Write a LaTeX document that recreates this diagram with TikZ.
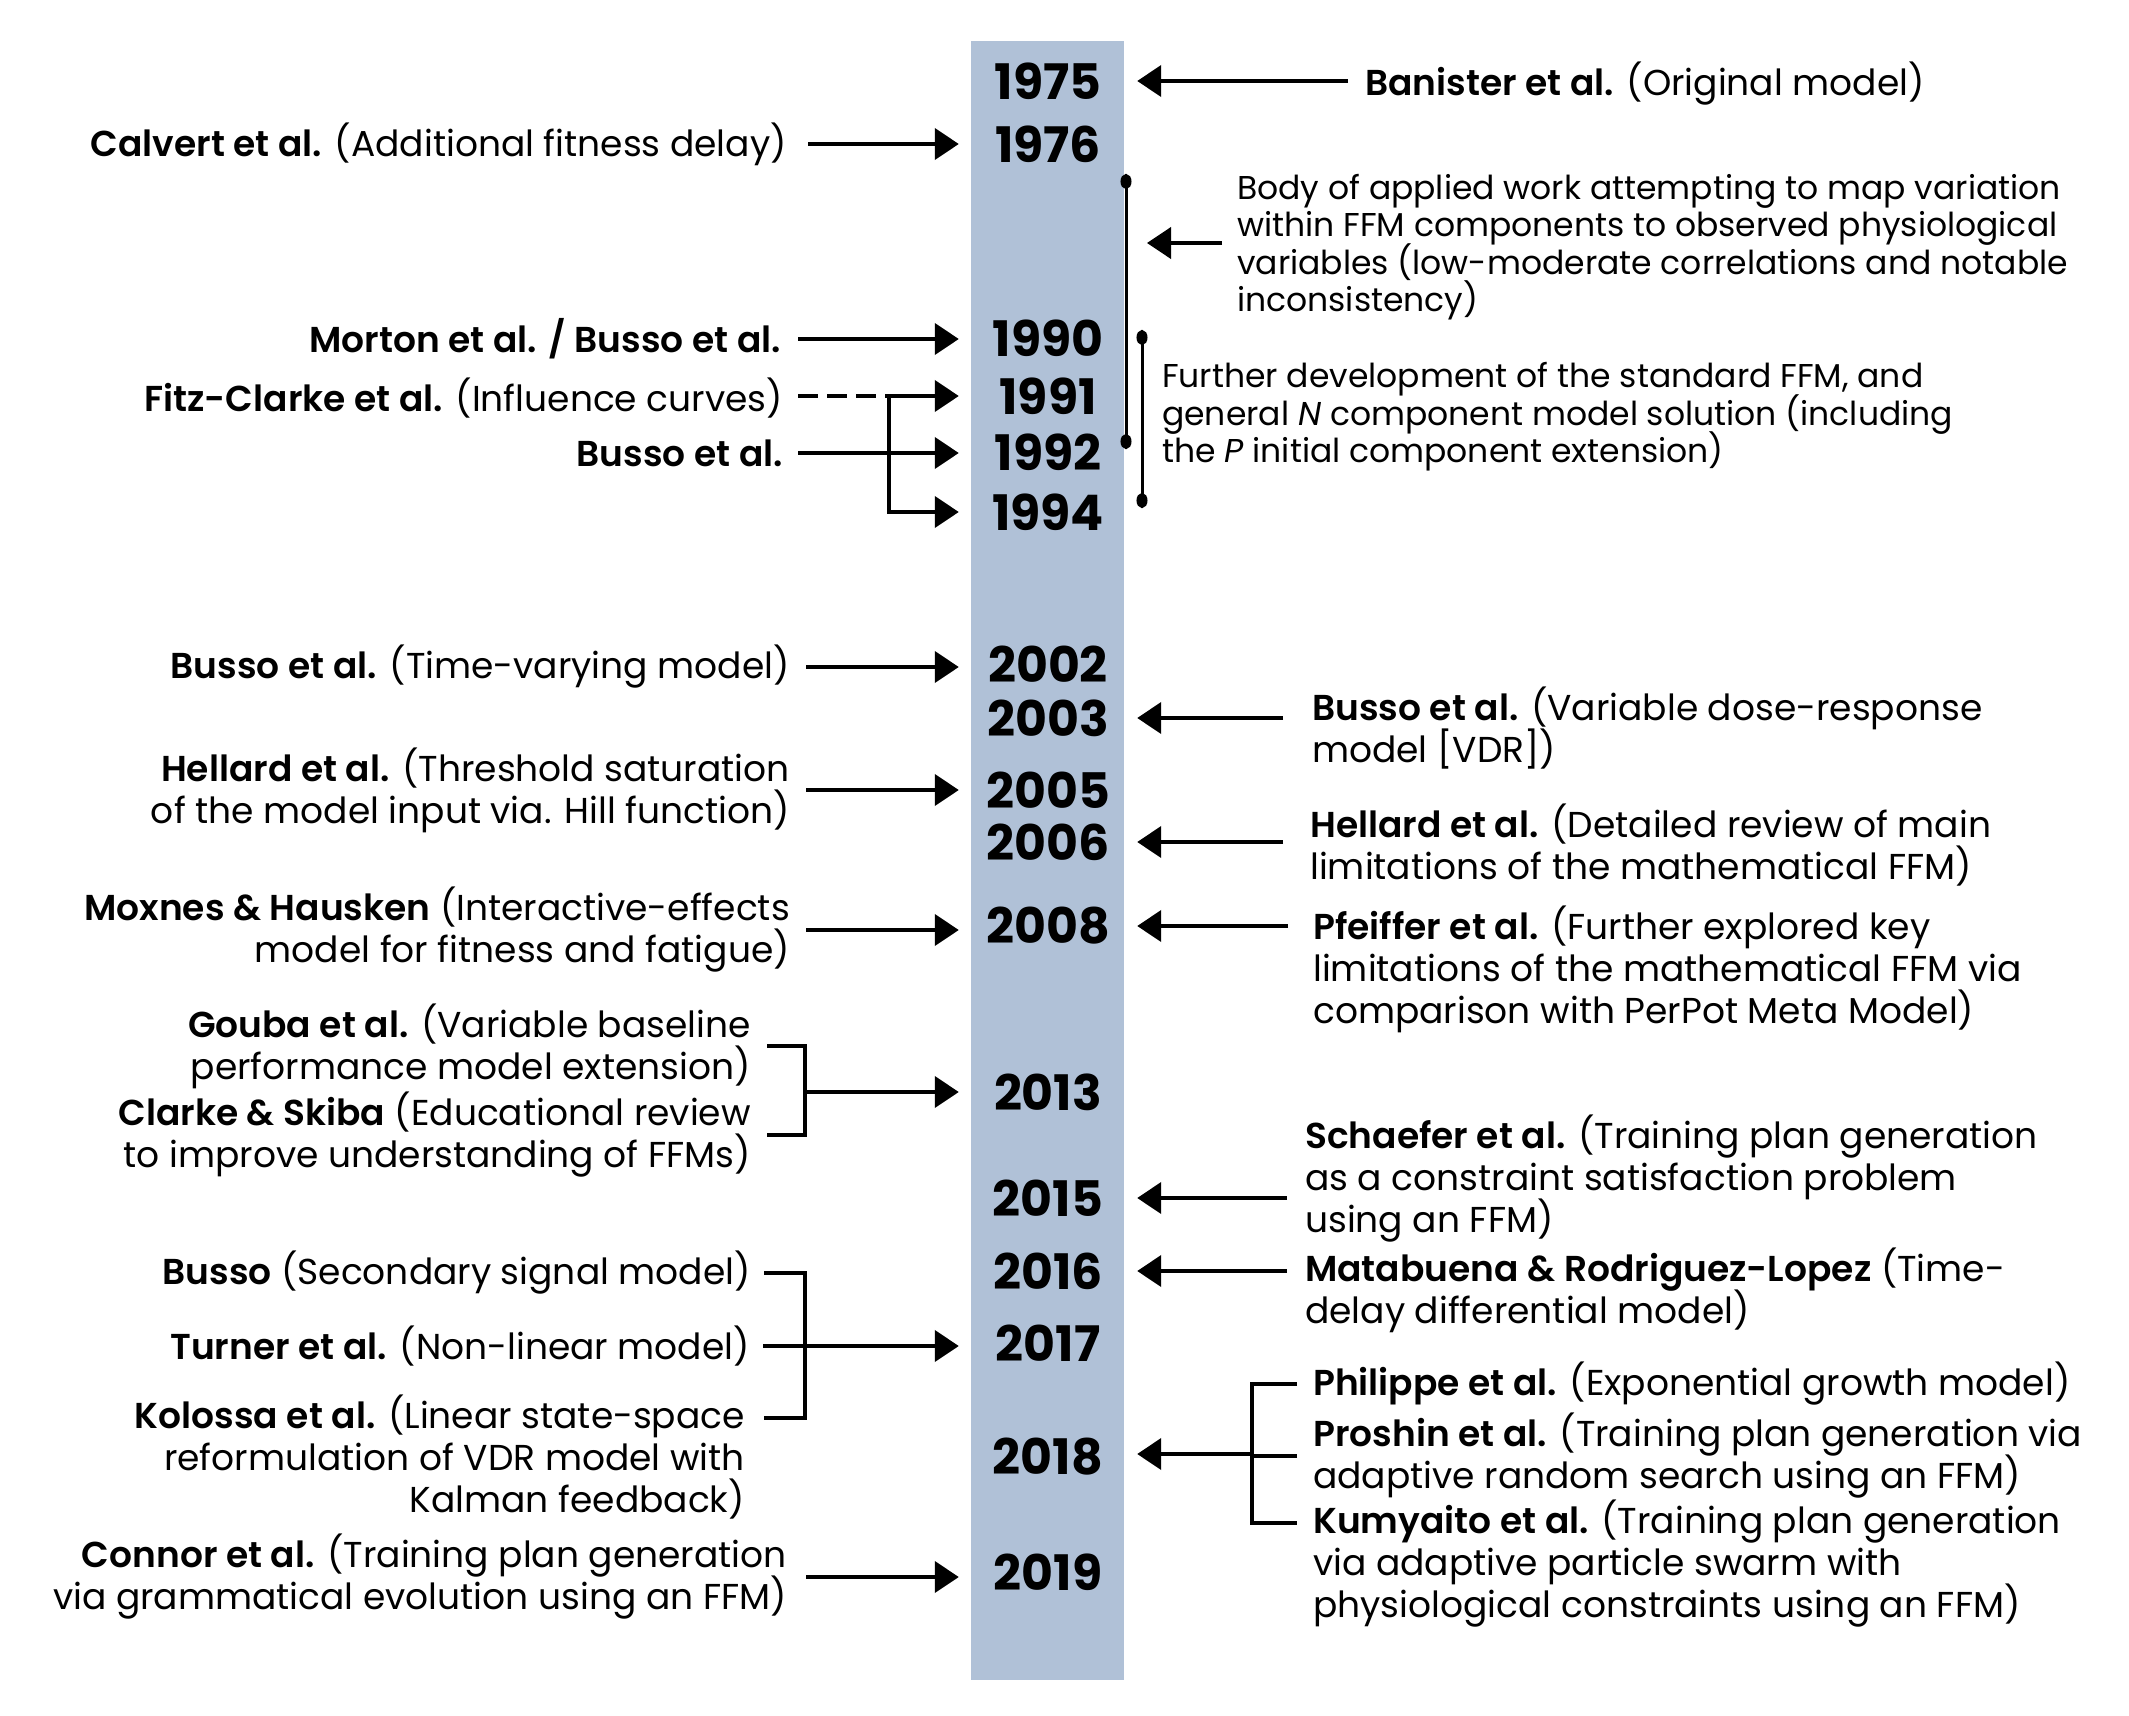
\documentclass[tikz,border=0pt]{standalone}
\usepackage{fontspec}
\setmainfont{Poppins}
\newfontfamily\nmfont{Poppins SemiBold}
\usetikzlibrary{arrows.meta}
\definecolor{barblue}{HTML}{B0C1D7}
\newcommand{\nm}[1]{{\nmfont #1}}
\setlength{\lineskiplimit}{-100pt}
\begin{document}
\begin{tikzpicture}[x=1pt,y=-1pt,
  yr/.style={font=\fontsize{49}{54}\selectfont\bfseries, minimum width=178pt, inner sep=0pt},
  lab/.style={font=\fontsize{36}{42}\selectfont, inner sep=0pt},
  labl/.style={lab, align=right, anchor=east},
  labr/.style={lab, align=left, anchor=west},
  note/.style={font=\fontsize{33}{37.5}\selectfont, inner sep=0pt, align=left, anchor=west},
  conn/.style={line width=4pt},
  arr/.style={conn, -{Triangle[length=24pt,width=31pt]}},
  span/.style={line width=3pt, {Circle[length=15pt,width=11pt]}-{Circle[length=15pt,width=11pt]}}
]
\path[use as bounding box] (0,0) rectangle (2129,1716);

% timeline bar
\fill[barblue] (971,41) rectangle (1124,1680);

% years
\node[yr] (y1975) at (1048,81) {1975};
\node[yr] (y1976) at (1048,144) {1976};
\node[yr] (y1990) at (1048,338) {1990};
\node[yr] (y1991) at (1048,396) {1991};
\node[yr] (y1992) at (1048,452) {1992};
\node[yr] (y1994) at (1048,512) {1994};
\node[yr] (y2002) at (1048,664) {2002};
\node[yr] (y2003) at (1048,718) {2003};
\node[yr] (y2005) at (1048,790) {2005};
\node[yr] (y2006) at (1048,842) {2006};
\node[yr] (y2008) at (1048,926) {2008};
\node[yr] (y2013) at (1048,1092) {2013};
\node[yr] (y2015) at (1048,1198) {2015};
\node[yr] (y2016) at (1048,1271) {2016};
\node[yr] (y2017) at (1048,1343) {2017};
\node[yr] (y2018) at (1048,1457) {2018};
\node[yr] (y2019) at (1048,1572) {2019};

% left-hand entries
\node[labl] (calvert) at (787,144) {\nm{Calvert et al.} (Additional fitness delay)};
\node[labl] (morton) at (781,339) {\nm{Morton et al. / Busso et al.}};
\node[labl] (fitz) at (783,398) {\nm{Fitz-Clarke et al.} (Influence curves)};
\node[labl] (busso92) at (783,453) {\nm{Busso et al.}};
\node[labl] (bussotv) at (790,667) {\nm{Busso et al.} (Time-varying model)};
\node[labl] (hellardl) at (790,790) {\nm{Hellard et al.} (Threshold saturation\\of the model input via. Hill function)};
\node[labl] (moxnes) at (790,930) {\nm{Moxnes \& Hausken} (Interactive-effects\\model for fitness and fatigue)};
\node[labl] (gouba) at (751,1046) {\nm{Gouba et al.} (Variable baseline\\performance model extension)};
\node[labl] (clarke) at (751,1135) {\nm{Clarke \& Skiba} (Educational review\\to improve understanding of FFMs)};
\node[labl] (bussoss) at (751,1273) {\nm{Busso} (Secondary signal model)};
\node[labl] (turner) at (750,1346) {\nm{Turner et al.} (Non-linear model)};
\node[labl] (kolossa) at (745,1457) {\nm{Kolossa et al.} (Linear state-space\\reformulation of VDR model with\\Kalman feedback)};
\node[labl] (connor) at (787,1577) {\nm{Connor et al.} (Training plan generation\\via grammatical evolution using an FFM)};

% right-hand entries
\node[labr] (banister) at (1365,84) {\nm{Banister et al.} (Original model)};
\node[note] (body) at (1237,247) {Body of applied work attempting to map variation\\within FFM components to observed physiological\\variables (low-moderate correlations and notable\\inconsistency)};
\node[note] (further) at (1162,417) {Further development of the standard FFM, and\\general \textit{N} component model solution (including\\the \textit{P} initial component extension)};
\node[labr] (bussovdr) at (1312,728) {\nm{Busso et al.} (Variable dose-response\\model [VDR])};
\node[labr] (hellardr) at (1310,845) {\nm{Hellard et al.} (Detailed review of main\\limitations of the mathematical FFM)};
\node[labr] (pfeiffer) at (1313,969) {\nm{Pfeiffer et al.} (Further explored key\\limitations of the mathematical FFM via\\comparison with PerPot Meta Model)};
\node[labr] (schaefer) at (1305,1179) {\nm{Schaefer et al.} (Training plan generation\\as a constraint satisfaction problem\\using an FFM)};
\node[labr] (matabuena) at (1305,1290) {\nm{Matabuena \& Rodriguez-Lopez} (Time-\\delay differential model)};
\node[labr] (philippe) at (1313,1384) {\nm{Philippe et al.} (Exponential growth model)};
\node[labr] (proshin) at (1313,1456) {\nm{Proshin et al.} (Training plan generation via\\adaptive random search using an FFM)};
\node[labr] (kumyaito) at (1313,1564) {\nm{Kumyaito et al.} (Training plan generation\\via adaptive particle swarm with\\physiological constraints using an FFM)};

% junction points and bracket ends
\coordinate (fj) at (889,396);
\coordinate (gj) at (805,1092);
\coordinate (tj) at (805,1346);
\coordinate (rj) at (1252,1454);
\coordinate (bodytip) at (1147,243);
\coordinate (kol1) at ([xshift=19pt,yshift=39pt]kolossa.east);
\coordinate (kum1) at ([xshift=-16pt,yshift=41pt]kumyaito.west);
\coordinate (a1) at (1126,174);
\coordinate (a2) at (1126,449);
\coordinate (b1) at (1142,330);
\coordinate (b2) at (1142,508);

% left connectors
\draw[arr, shorten <=21pt] (calvert.east |- y1976.west) -- (y1976.west);
\draw[arr, shorten <=17pt] (morton.east) -- (morton.east -| y1990.west);
\draw[conn, dash pattern=on 20pt off 9pt, shorten <=15pt] (fitz.east |- fj) -- (fj);
\draw[arr] (fj) -- (y1991.west);
\draw[arr] (fj) |- (y1994.west);
\draw[arr, shorten <=15pt] (busso92.east) -- (busso92.east -| y1992.west);
\draw[arr, shorten <=16pt] (bussotv.east) -- (bussotv.east -| y2002.west);
\draw[arr, shorten <=16pt] (hellardl.east) -- (hellardl.east -| y2005.west);
\draw[arr, shorten <=16pt] (moxnes.east) -- (moxnes.east -| y2008.west);
\draw[conn] ([xshift=16pt]gouba.east) -- (gouba.east -| gj) -- (clarke.east -| gj) -- ([xshift=16pt]clarke.east);
\draw[arr] (gj) -- (y2013.west);
\draw[conn] ([xshift=13pt]bussoss.east) -- (bussoss.east -| tj) -- (kol1 -| tj) -- (kol1);
\draw[arr, shorten <=13pt] (turner.east) -- (turner.east -| y2017.west);
\draw[arr, shorten <=19pt] (connor.east) -- (connor.east -| y2019.west);

% right connectors
\draw[arr, shorten <=17pt] (banister.west |- y1975.east) -- (y1975.east);
\draw[span] (a1) -- (a2);
\draw[span] (b1) -- (b2);
\draw[arr, shorten <=15pt] (body.west |- bodytip) -- (bodytip);
\draw[arr, shorten <=29pt] (bussovdr.west |- y2003.east) -- (y2003.east);
\draw[arr, shorten <=27pt] (hellardr.west |- y2006.east) -- (y2006.east);
\draw[arr, shorten <=25pt] (pfeiffer.west |- y2008.east) -- (y2008.east);
\draw[arr, shorten <=18pt] (schaefer.west |- y2015.east) -- (y2015.east);
\draw[arr, shorten <=18pt] (matabuena.west |- y2016.east) -- (y2016.east);
\draw[conn] ([xshift=-16pt]philippe.west) -- (philippe.west -| rj) -- (kum1 -| rj) -- (kum1);
\draw[conn] ([xshift=-16pt]proshin.west) -- (proshin.west -| rj);
\draw[arr] (rj) -- (rj -| y2018.east);
\end{tikzpicture}
\end{document}
